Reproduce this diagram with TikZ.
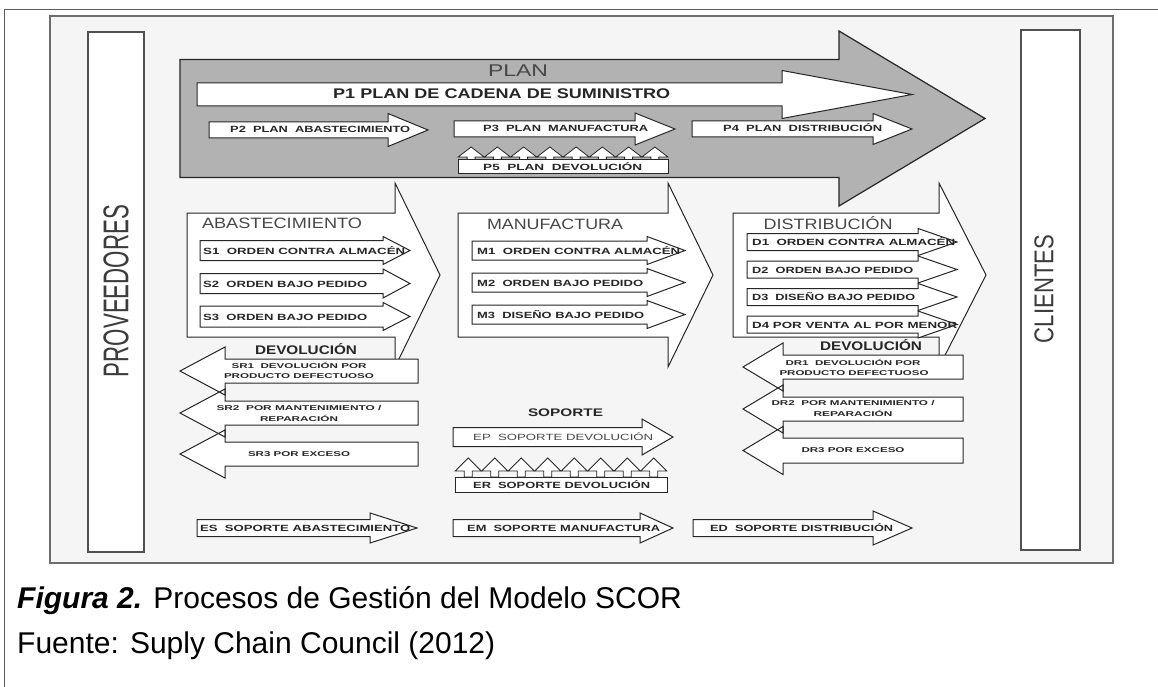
\documentclass[tikz,border=0pt]{standalone}
\usepackage{fontspec}
\setmainfont{Liberation Sans}
\usepackage{graphicx}

% stretch a label horizontally to a given width, keeping its height
\newlength\fitlen
\newcommand\fitx[2]{\settowidth\fitlen{#2}\pgfmathsetmacro\fitfac{#1/\the\fitlen}\scalebox{\fitfac}[1]{#2}}

\definecolor{ink}{HTML}{262626}
\definecolor{plangray}{HTML}{B2B2B2}
\definecolor{titlegray}{HTML}{474747}
\definecolor{panel}{HTML}{F5F5F5}
\definecolor{framegray}{HTML}{6E6E6E}

% right-pointing block arrow: [style] x-left, x-headbase, y-centre, body half-height, head half-height, x-tip
\newcommand\rarrow[7][]{\path[blk,#1] (#2,#4-#5) -- (#3,#4-#5) -- (#3,#4-#6) -- (#7,#4) -- (#3,#4+#6) -- (#3,#4+#5) -- (#2,#4+#5) -- cycle;}
% left-pointing block arrow: [style] x-tip, x-headbase, x-right, y-centre, body half-height, head half-height
\newcommand\larrow[7][]{\path[blk,#1] (#2,#5) -- (#3,#5-#7) -- (#3,#5-#6) -- (#4,#5-#6) -- (#4,#5+#6) -- (#3,#5+#6) -- (#3,#5+#7) -- cycle;}
% row of small upward arrows: x-start, x-end, y-base, count, stem height, head height
\newcommand\uprow[6]{%
  \foreach \k in {1,...,#4}{%
    \pgfmathsetmacro\ux{#1+(\k-0.5)*(#2-#1)/#4}%
    \path[blk,line width=0.8pt] (\ux-4,#3) -- (\ux-4,#3-#5) -- (\ux-13,#3-#5) -- (\ux,#3-#5-#6) -- (\ux+13,#3-#5) -- (\ux+4,#3-#5) -- (\ux+4,#3) -- cycle;}}

\tikzset{
  blk/.style={draw=ink, line width=1pt, fill=white, line join=miter},
  planarrow/.style={fill=plangray, line width=1.2pt},
  lbl/.style={font=\fontsize{9}{10}\selectfont\bfseries, text=ink, inner sep=0pt, anchor=base west},
  lblc/.style={font=\fontsize{7}{8}\selectfont\bfseries, text=ink, inner sep=0pt, anchor=base},
  bigtitle/.style={font=\fontsize{15}{16}\selectfont, text=titlegray, inner sep=0pt, anchor=base},
  boldtitle/.style={font=\fontsize{12.5}{14}\selectfont\bfseries, text=ink, inner sep=0pt, anchor=base},
  sidebox/.style={draw=ink!80, line width=1.3pt, fill=white},
  sidetext/.style={font=\fontsize{24}{26}\selectfont, text=ink!90, inner sep=0pt, rotate=90},
  captext/.style={font=\fontsize{30}{34}\selectfont, text=black, inner sep=0pt, anchor=base west}
}

\begin{document}
\begin{tikzpicture}[x=1pt,y=-1pt]
\useasboundingbox (0,0) rectangle (1158,687);
\fill[white] (0,0) rectangle (1158,687);

% page rule and figure frame
\draw[ink!75, line width=1pt] (4,687) -- (4,10) -- (1158,10);
\draw[framegray, line width=1.8pt, fill=panel] (50,16) rectangle (1113,563);

% suppliers and customers
\draw[sidebox] (88,32) rectangle (144,552);
\draw[sidebox] (1021,30) rectangle (1080,550);
\node[sidetext] (prov) at (116,291) {\resizebox{172pt}{25pt}{PROVEEDORES}};
\node[sidetext] (cli) at (1044,289) {\resizebox{108pt}{19pt}{CLIENTES}};

% PLAN
\rarrow[planarrow]{180}{839}{118.5}{59}{87.5}{985}
\node[font=\fontsize{17}{18}\selectfont, text=titlegray, inner sep=0pt, anchor=base] (plan) at (518,77) {\fitx{60pt}{PLAN}};
\rarrow{197}{782}{94.5}{11.5}{24}{912}
\node[font=\fontsize{14}{15}\selectfont\bfseries, text=ink, inner sep=0pt, anchor=base west] (p1) at (333,99) {\fitx{337pt}{P1 PLAN DE CADENA DE SUMINISTRO}};
\rarrow{209}{388}{130}{8}{16.5}{428}
\rarrow{454}{635}{129}{8}{16}{675}
\rarrow{692}{873}{129}{8}{15.5}{912}
\node[lbl] (p2) at (230,133) {\fitx{180pt}{P2~~PLAN~~ABASTECIMIENTO}};
\node[lbl] (p3) at (483,132) {\fitx{165pt}{P3~~PLAN~~MANUFACTURA}};
\node[lbl] (p4) at (723,132) {\fitx{159pt}{P4~~PLAN~~DISTRIBUCIÓN}};
\uprow{458}{668}{160}{8}{3}{10}
\path[blk] (458,160) rectangle (668,174);
\node[lbl] (p5) at (483,170.5) {\fitx{159pt}{P5~~PLAN~~DEVOLUCIÓN}};

% ABASTECIMIENTO
\rarrow{187}{395}{275}{62}{92}{440}
\node[bigtitle] (abs) at (282,228) {\fitx{160pt}{ABASTECIMIENTO}};
\rarrow{200}{383}{250.5}{10}{14}{410}
\rarrow{200}{383}{283.5}{10}{14.5}{410}
\rarrow{200}{383}{316.5}{10.5}{14}{410}
\node[lbl] (s1) at (203,254) {\fitx{202pt}{S1~~ORDEN CONTRA ALMACÉN}};
\node[lbl] (s2) at (203,287) {\fitx{164pt}{S2~~ORDEN BAJO PEDIDO}};
\node[lbl] (s3) at (203,320) {\fitx{164pt}{S3~~ORDEN BAJO PEDIDO}};

% MANUFACTURA
\rarrow{458}{668}{275}{62}{92}{713}
\node[bigtitle] (man) at (555,229) {\fitx{136pt}{MANUFACTURA}};
\rarrow{472}{647}{250.5}{9.5}{14}{685}
\rarrow{472}{647}{282.5}{9.5}{14}{685}
\rarrow{472}{647}{314.5}{9.5}{14}{685}
\node[lbl] (m1) at (477,254) {\fitx{203pt}{M1~~ORDEN CONTRA ALMACÉN}};
\node[lbl] (m2) at (477,286) {\fitx{166pt}{M2~~ORDEN BAJO PEDIDO}};
\node[lbl] (m3) at (477,318) {\fitx{167pt}{M3~~DISEÑO BAJO PEDIDO}};

% DISTRIBUCIÓN
\rarrow{733}{939}{275}{62}{92}{986}
\node[bigtitle] (dis) at (828,229) {\fitx{129pt}{DISTRIBUCIÓN}};
\rarrow{747}{918}{242}{8.5}{13.5}{957}
\rarrow{747}{918}{269.5}{8.5}{13.5}{957}
\rarrow{747}{918}{297}{8.5}{13.5}{957}
\rarrow{747}{918}{324.5}{8.5}{13.5}{957}
\node[lbl] (d1) at (752,245.5) {\fitx{203pt}{D1~~ORDEN CONTRA ALMACÉN}};
\node[lbl] (d2) at (752,273) {\fitx{161pt}{D2~~ORDEN BAJO PEDIDO}};
\node[lbl] (d3) at (752,300.5) {\fitx{163pt}{D3~~DISEÑO BAJO PEDIDO}};
\node[lbl] (d4) at (752,328) {\fitx{205pt}{D4 POR VENTA AL POR MENOR}};

% returns, source side
\larrow[draw=none]{180}{225}{418}{371}{12}{24}
\larrow[draw=none]{180}{225}{418}{413}{12}{24}
\larrow[draw=none]{180}{225}{418}{454}{12}{24}
\larrow[fill=none]{180}{225}{418}{371}{12}{24}
\larrow[fill=none]{180}{225}{418}{413}{12}{24}
\larrow[fill=none]{180}{225}{418}{454}{12}{24}
\node[boldtitle] (devs) at (306,354) {\fitx{102pt}{DEVOLUCIÓN}};
\node[lblc] (sr1a) at (299,368.5) {\fitx{135pt}{SR1~~DEVOLUCIÓN POR}};
\node[lblc] (sr1b) at (299,378.5) {\fitx{150pt}{PRODUCTO DEFECTUOSO}};
\node[lblc] (sr2a) at (299,410.5) {\fitx{165pt}{SR2~~POR MANTENIMIENTO /}};
\node[lblc] (sr2b) at (299,421.5) {\fitx{78pt}{REPARACIÓN}};
\node[lblc] (sr3) at (299,456.5) {\fitx{102pt}{SR3 POR EXCESO}};

% returns, delivery side
\larrow[draw=none]{743}{783}{963}{367}{12}{24}
\larrow[draw=none]{743}{783}{963}{409}{12}{24}
\larrow[draw=none]{743}{783}{963}{450.5}{12.5}{24}
\larrow[fill=none]{743}{783}{963}{367}{12}{24}
\larrow[fill=none]{743}{783}{963}{409}{12}{24}
\larrow[fill=none]{743}{783}{963}{450.5}{12.5}{24}
\node[boldtitle] (devd) at (871,350) {\fitx{102pt}{DEVOLUCIÓN}};
\node[lblc] (dr1a) at (853,365.5) {\fitx{135pt}{DR1~~DEVOLUCIÓN POR}};
\node[lblc] (dr1b) at (854,375.5) {\fitx{149pt}{PRODUCTO DEFECTUOSO}};
\node[lblc] (dr2a) at (853,405.5) {\fitx{163pt}{DR2~~POR MANTENIMIENTO /}};
\node[lblc] (dr2b) at (853,416.5) {\fitx{79pt}{REPARACIÓN}};
\node[lblc] (dr3) at (853,452) {\fitx{103pt}{DR3 POR EXCESO}};

% SOPORTE
\node[font=\fontsize{11}{12}\selectfont\bfseries, text=ink, inner sep=0pt, anchor=base] (sop) at (565.5,416) {\fitx{75pt}{SOPORTE}};
\rarrow{453}{642}{437}{9.5}{18}{673}
\node[font=\fontsize{9}{10}\selectfont, text=titlegray, inner sep=0pt, anchor=base west] (ep) at (473,440.5) {\fitx{180pt}{EP~~SOPORTE DEVOLUCIÓN}};
\uprow{455}{667}{477}{8}{6}{13}
\path[blk] (455,477) rectangle (667,492);
\node[lbl] (er) at (473,488) {\fitx{177pt}{ER~~SOPORTE DEVOLUCIÓN}};

% enabling processes
\rarrow{197}{370}{528}{8.5}{15}{417}
\rarrow{453}{640}{528}{8.5}{15}{673}
\rarrow{693}{873}{528}{8.5}{17}{912}
\node[lbl] (es) at (200,531.5) {\fitx{210pt}{ES~~SOPORTE ABASTECIMIENTO}};
\node[lbl] (em) at (467,531.5) {\fitx{193pt}{EM~~SOPORTE MANUFACTURA}};
\node[lbl] (ed) at (710,531.5) {\fitx{183pt}{ED~~SOPORTE DISTRIBUCIÓN}};

% caption
\node[captext] (cap) at (17,608) {\textbf{\textit{Figura 2.}} Procesos de Gestión del Modelo SCOR};
\node[captext] (src) at (17,653) {Fuente: Suply Chain Council (2012)};
\end{tikzpicture}
\end{document}
